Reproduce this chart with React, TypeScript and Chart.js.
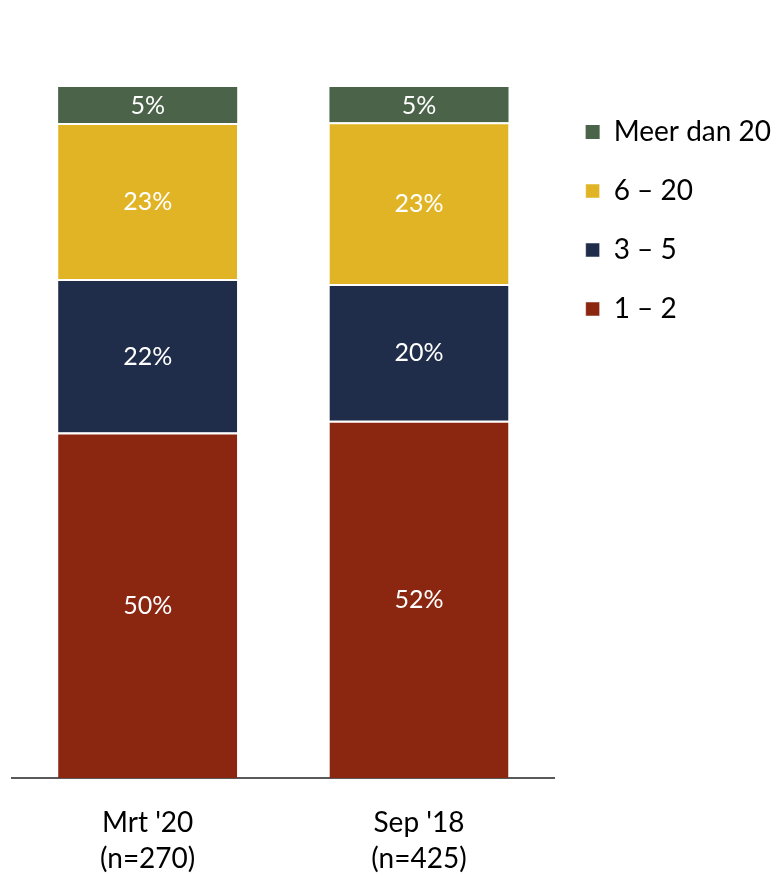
import React, { useEffect, useRef } from "react";
import { Chart, registerables } from "chart.js";

Chart.register(...registerables);

const categories: string[][] = [["Mrt '20", "(n=270)"], ["Sep '18", "(n=425)"]];
const seriesNames = ["1 – 2", "3 – 5", "6 – 20", "Meer dan 20"];
const values12 = [50.0, 51.7];
const values35 = [22.2, 19.8];
const values620 = [22.6, 23.4];
const valuesMeer = [5.2, 5.1];
const colors = ["#8B2711", "#1F2D4A", "#E1B425", "#4A6349"];

const FONT = "Lato, 'Liberation Sans', sans-serif";

const labelPlugin = {
  id: "segLabels",
  afterDatasetsDraw(chart: any) {
    const ctx = chart.ctx;
    ctx.save();
    ctx.fillStyle = "#ffffff";
    ctx.font = `25px ${FONT}`;
    ctx.textAlign = "center";
    ctx.textBaseline = "middle";
    chart.data.datasets.forEach((ds: any, di: number) => {
      const meta = chart.getDatasetMeta(di);
      meta.data.forEach((bar: any, i: number) => {
        const v = ds.data[i];
        const { x, y, base } = bar.getProps(["x", "y", "base"], true);
        ctx.fillText(`${Math.round(v)}%`, x, (y + base) / 2 + 1);
      });
    });
    ctx.restore();
  },
};

export default function App() {
  const ref = useRef<HTMLCanvasElement | null>(null);
  useEffect(() => {
    if (!ref.current) return;
    const series = [values12, values35, values620, valuesMeer];
    const chart = new Chart(ref.current, {
      type: "bar",
      data: {
        labels: categories as any,
        datasets: series.map((data, i) => ({
          label: seriesNames[i],
          data,
          backgroundColor: colors[i],
          borderColor: "#ffffff",
          borderWidth: i < 3 ? { top: 2, left: 0, right: 0, bottom: 0 } : 0,
          borderSkipped: false,
          barPercentage: 0.66,
          categoryPercentage: 1,
        })),
      },
      options: {
        animation: false,
        responsive: true,
        maintainAspectRatio: false,
        layout: { padding: { left: 12, top: 87, right: 1, bottom: 0 } },
        scales: {
          x: {
            stacked: true,
            grid: { display: false, drawTicks: false },
            border: { display: true, color: "#595959", width: 2 },
            ticks: {
              color: "#000000",
              font: { family: FONT, size: 28, lineHeight: 1.286 },
              padding: 27,
            },
          },
          y: {
            stacked: true,
            display: false,
            min: 0,
            max: 100,
          },
        },
        plugins: {
          tooltip: { enabled: false },
          legend: {
            position: "right",
            align: "start",
            reverse: true,
            labels: {
              boxWidth: 14,
              boxHeight: 14,
              padding: 31,
              color: "#000000",
              font: { family: FONT, size: 28 },
            },
          },
        },
      },
      plugins: [labelPlugin],
    });
    return () => chart.destroy();
  }, []);
  return (
    <div style={{ position: "absolute", left: 0, top: 0, width: 782, height: 904, overflow: "hidden" }}>
      <canvas ref={ref} />
    </div>
  );
}
